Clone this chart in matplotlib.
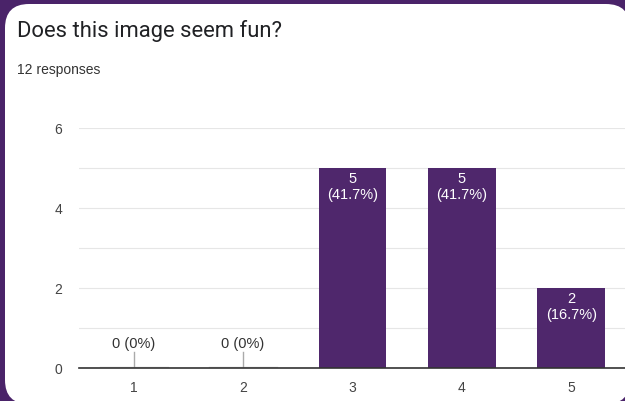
import matplotlib
matplotlib.use("Agg")
import matplotlib.pyplot as plt
from matplotlib.patches import FancyBboxPatch

categories = ["1", "2", "3", "4", "5"]
counts = [0, 0, 5, 5, 2]
total_responses = 12
y_ticks = [0, 2, 4, 6]
title = "Does this image seem fun?"
subtitle = f"{total_responses} responses"

frame_color = "#4a2369"
bar_color = "#4f276c"
text_gray = "#444444"

W, H = 625, 401
fig = plt.figure(figsize=(W / 100, H / 100), dpi=100)
fig.patch.set_facecolor(frame_color)

# white rounded card, in pixel coordinates (origin bottom-left)
pad = 24
left, right, top, bottom = 5, 630, 4, 404
card = FancyBboxPatch((left + pad, H - bottom + pad),
                      right - left - 2 * pad, bottom - top - 2 * pad,
                      boxstyle=f"round,pad={pad}", transform=None,
                      facecolor="white", edgecolor="none", zorder=-10)
fig.patches.append(card)

fig.text(17 / W, 1 - 31 / H, title, fontsize=15.8, family="Roboto",
         color="#202124", va="center", ha="left")
fig.text(17 / W, 1 - 70 / H, subtitle, fontsize=10, family="Liberation Sans",
         color="#333333", va="center", ha="left")

ax = fig.add_axes([79 / W, 1 - 368 / H, (626 - 79) / W, (368 - 128) / H])
ax.set_zorder(5)
ax.set_facecolor("none")
x = list(range(1, len(categories) + 1))
bars = ax.bar(x, counts, width=0.62, color=bar_color, zorder=3)
ax.set_xlim(0.5, 5.5)
ax.set_ylim(0, 6)
ax.set_yticks(y_ticks)
ax.set_yticks([1, 3, 5], minor=True)
ax.set_xticks(x)
ax.set_xticklabels(categories)
ax.grid(axis="y", which="both", color="#e6e6e6", linewidth=0.8, zorder=0)
for s in ["top", "right", "left"]:
    ax.spines[s].set_visible(False)
ax.spines["bottom"].set_color("#333333")
ax.spines["bottom"].set_linewidth(1.2)
ax.spines["bottom"].set_zorder(5)
ax.tick_params(axis="both", which="both", length=0, colors=text_gray, labelsize=10)
ax.tick_params(axis="y", pad=12)
ax.tick_params(axis="x", pad=9)
for lbl in ax.get_xticklabels() + ax.get_yticklabels():
    lbl.set_family("Liberation Sans")

for xi, c in zip(x, counts):
    pct = c / total_responses * 100
    pct_txt = f"{pct:.1f}%" if c else "0%"
    if c == 0:
        ax.plot([xi - 0.31, xi + 0.31], [0.02, 0.02], color="#cccccc",
                linewidth=1, zorder=4)
        ax.plot([xi, xi], [0, 0.4], color="#aaaaaa", linewidth=1, zorder=4)
        ax.text(xi, 0.6, f"{c} ({pct_txt})", ha="center", va="center",
                fontsize=10.5, family="Liberation Sans", color="#333333")
    else:
        ax.text(xi, c - 0.1, f"{c}\n({pct_txt})", ha="center", va="top",
                fontsize=10.5, family="Liberation Sans", color="white",
                linespacing=1.2, zorder=5)

fig.savefig("out.png", dpi=100, facecolor=fig.get_facecolor())
